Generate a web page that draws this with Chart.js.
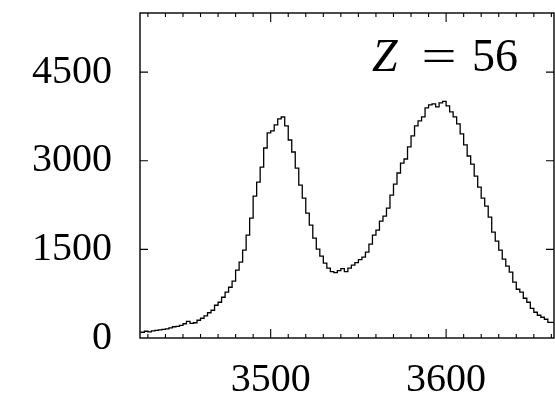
<!DOCTYPE html>
<html>
<head>
<meta charset="utf-8">
<script src="https://cdn.jsdelivr.net/npm/chart.js@4"></script>
<style>
  html, body { margin: 0; padding: 0; background: #fff; }
  #wrap { width: 555px; height: 398px; }
</style>
</head>
<body>
<div id="wrap"><canvas id="myChart" width="555" height="398"></canvas></div>
<script>
// histogram, bins of width 2 starting at 3426
const binStart = 3426;
const binWidth = 2;
const counts = [
  88, 97, 114, 105, 122, 130, 139, 147, 156, 173,
  190, 198, 215, 241, 283, 249, 258, 300, 334, 376,
  427, 470, 554, 605, 690, 775, 859, 961, 1148, 1283,
  1487, 1741, 2029, 2401, 2638, 2893, 3215, 3471, 3505, 3606,
  3707, 3740, 3589, 3351, 3148, 2876, 2588, 2368, 2114, 1910,
  1690, 1503, 1385, 1266, 1181, 1122, 1105, 1139, 1173, 1122,
  1181, 1232, 1275, 1325, 1368, 1453, 1588, 1741, 1826, 1978,
  2063, 2198, 2419, 2605, 2792, 2961, 3029, 3233, 3420, 3589,
  3673, 3741, 3894, 3945, 3962, 3911, 3979, 4004, 3928, 3826,
  3741, 3622, 3453, 3267, 3080, 2944, 2741, 2554, 2368, 2232,
  2046, 1792, 1639, 1487, 1334, 1215, 1114, 944, 825, 775,
  673, 605, 503, 436, 385, 351, 317, 266
];
const xTickLabels = [3500, 3600];
const yTickLabels = [0, 1500, 3000, 4500];
const xMinorTicks = [3430, 3440, 3450, 3460, 3470, 3480, 3490, 3510, 3520, 3530, 3540, 3550,
  3560, 3570, 3580, 3590, 3610, 3620, 3630, 3640, 3650, 3660];
const annotation = ['Z', '=', '56'];

// step points at the left edge of each bin, plus closing right edge
const points = counts.map((c, i) => ({ x: binStart + i * binWidth, y: c }));
points.push({ x: binStart + counts.length * binWidth, y: counts[counts.length - 1] });

const serif = "'Liberation Serif', 'DejaVu Serif', serif";

// no extra room for half-labels at the ends of the axes
function noPad(s) {
  s.paddingTop = 0; s.paddingBottom = 0; s.paddingLeft = 0; s.paddingRight = 0;
}

// frame, inward ticks on all four sides, and the Z label
const framePlugin = {
  id: 'frame',
  afterDraw(chart) {
    const ctx = chart.ctx;
    const a = chart.chartArea;
    const xs = chart.scales.x, ys = chart.scales.y;
    ctx.save();
    ctx.strokeStyle = '#000';
    ctx.lineWidth = 1.4;
    ctx.strokeRect(a.left, a.top, a.right - a.left, a.bottom - a.top);
    ctx.lineWidth = 1.1;
    ctx.beginPath();
    xMinorTicks.forEach(v => {
      const px = xs.getPixelForValue(v);
      ctx.moveTo(px, a.bottom); ctx.lineTo(px, a.bottom - 4);
      ctx.moveTo(px, a.top); ctx.lineTo(px, a.top + 4);
    });
    xTickLabels.forEach(v => {
      const px = xs.getPixelForValue(v);
      ctx.moveTo(px, a.bottom); ctx.lineTo(px, a.bottom - 9);
      ctx.moveTo(px, a.top); ctx.lineTo(px, a.top + 9);
    });
    yTickLabels.slice(1).forEach(v => {
      const py = ys.getPixelForValue(v);
      ctx.moveTo(a.left, py); ctx.lineTo(a.left + 8, py);
      ctx.moveTo(a.right, py); ctx.lineTo(a.right - 8, py);
    });
    ctx.stroke();

    ctx.fillStyle = '#000';
    ctx.textBaseline = 'alphabetic';
    ctx.font = 'italic 46px ' + serif;
    ctx.textAlign = 'left';
    ctx.fillText(annotation[0], 372, 71);
    ctx.font = '46px ' + serif;
    ctx.textAlign = 'right';
    ctx.fillText(annotation[2], 518, 71);
    // the TeX equals sign is wider, stretch it a bit
    ctx.translate(439, 71);
    ctx.scale(1.35, 1);
    ctx.textAlign = 'center';
    ctx.fillText(annotation[1], 0, 0);
    ctx.restore();
  }
};

const ctx = document.getElementById('myChart').getContext('2d');
new Chart(ctx, {
  type: 'line',
  data: {
    datasets: [{
      data: points,
      stepped: 'after',
      borderColor: '#000',
      borderWidth: 1.3,
      pointRadius: 0,
      fill: false
    }]
  },
  options: {
    responsive: false,
    animation: false,
    events: [],
    layout: { padding: { top: 13, right: 1, left: 0, bottom: 0 } },
    plugins: { legend: { display: false }, tooltip: { enabled: false } },
    scales: {
      x: {
        type: 'linear',
        min: 3425.5,
        max: 3661.5,
        grid: { display: false, drawTicks: false },
        border: { display: false },
        afterBuildTicks: s => { s.ticks = xTickLabels.map(v => ({ value: v })); },
        afterFit: s => { s.height = 60; noPad(s); },
        ticks: {
          color: '#000',
          padding: 18,
          maxRotation: 0,
          font: { family: serif, size: 40 },
          callback: v => String(v)
        }
      },
      y: {
        min: 0,
        max: 5500,
        grid: { display: false, drawTicks: false },
        border: { display: false },
        afterBuildTicks: s => { s.ticks = yTickLabels.map(v => ({ value: v })); },
        afterFit: s => { s.width = 140; noPad(s); },
        ticks: {
          color: '#000',
          padding: 28,
          font: { family: serif, size: 40 },
          callback: v => String(v)
        }
      }
    }
  },
  plugins: [framePlugin]
});
</script>
</body>
</html>
